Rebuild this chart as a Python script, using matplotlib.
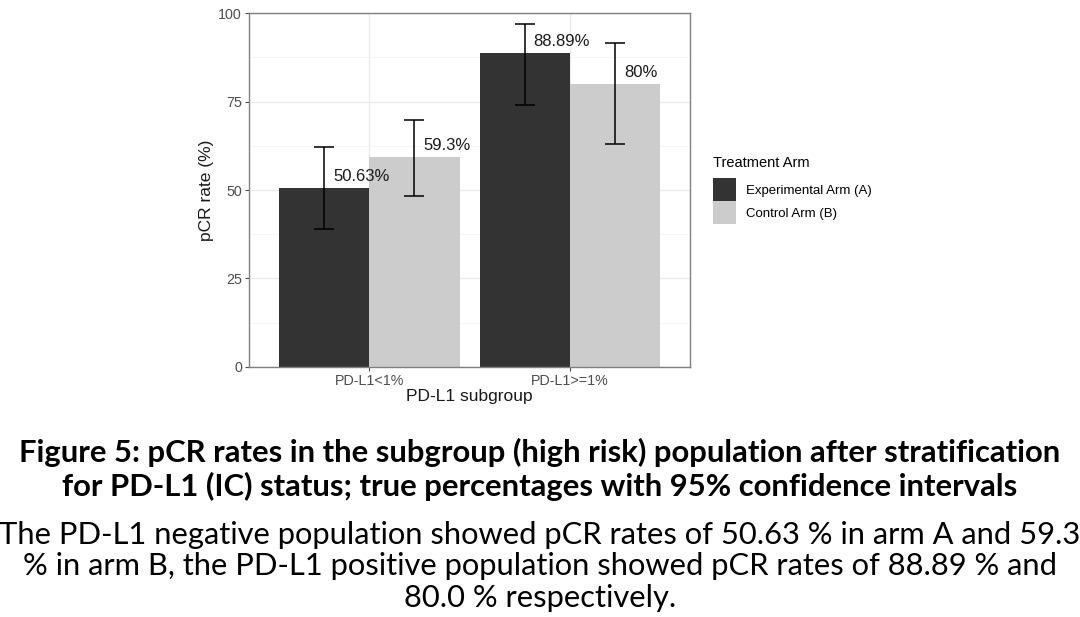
import matplotlib.pyplot as plt
import numpy as np
from matplotlib.patches import Patch
from matplotlib.ticker import MultipleLocator

# ==========================================================
# Data
# ==========================================================

subgroups = ["PD-L1<1%", "PD-L1>=1%"]
arms = ["Experimental Arm (A)", "Control Arm (B)"]

rate_a = [50.63, 88.89]
rate_b = [59.3, 80.0]
ci_low_a = [39.1, 74.0]
ci_high_a = [62.2, 96.9]
ci_low_b = [48.2, 63.1]
ci_high_b = [69.8, 91.6]
labels_a = ["50.63%", "88.89%"]
labels_b = ["59.3%", "80%"]

caption_title = [
    "Figure 5: pCR rates in the subgroup (high risk) population after stratification",
    "for PD-L1 (IC) status; true percentages with 95% confidence intervals",
]
caption_body = [
    "The PD-L1 negative population showed pCR rates of 50.63 % in arm A and 59.3",
    "% in arm B, the PD-L1 positive population showed pCR rates of 88.89 % and",
    "80.0 % respectively.",
]

# ==========================================================
# Style
# ==========================================================

DARK = "#333333"
LIGHT = "#CCCCCC"
GRID = "#EBEBEB"
TICK = "#4D4D4D"

plt.rcParams["font.family"] = ["Liberation Sans", "DejaVu Sans"]

fig = plt.figure(figsize=(10.8, 6.17), dpi=100)
ax = fig.add_axes([0.2306, 0.4057, 0.4083, 0.5727])

x = np.arange(1, len(subgroups) + 1)
w = 0.45

ax.bar(x - w / 2, rate_a, width=w, color=DARK, zorder=2)
ax.bar(x + w / 2, rate_b, width=w, color=LIGHT, zorder=2)

for xs, lo, hi in [(x - w / 2, ci_low_a, ci_high_a), (x + w / 2, ci_low_b, ci_high_b)]:
    ax.vlines(xs, lo, hi, color="black", lw=1.1, zorder=3)
    ax.hlines(lo, xs - 0.05, xs + 0.05, color="black", lw=1.1, zorder=3)
    ax.hlines(hi, xs - 0.05, xs + 0.05, color="black", lw=1.1, zorder=3)

for xs, vals, labs in [(x - w / 2, rate_a, labels_a), (x + w / 2, rate_b, labels_b)]:
    for xi, v, t in zip(xs, vals, labs):
        ax.text(xi + 0.045, v + 3.2, t, ha="left", va="center", fontsize=12,
                color="#1A1A1A", zorder=4)

ax.set_xlim(0.4, 2.6)
ax.set_ylim(0, 100)
ax.set_xticks(x)
ax.set_xticklabels(subgroups)
ax.yaxis.set_major_locator(MultipleLocator(25))
ax.yaxis.set_minor_locator(MultipleLocator(12.5))
ax.grid(True, which="major", color=GRID, lw=1.0, zorder=0)
ax.grid(True, which="minor", axis="y", color="#F5F5F5", lw=0.6, zorder=0)
ax.set_axisbelow(True)
ax.tick_params(axis="both", which="major", colors=TICK, labelsize=10.3,
               length=3, width=0.8, pad=2)
ax.tick_params(axis="both", which="minor", length=0)
for sp in ax.spines.values():
    sp.set_color("#808080")
    sp.set_linewidth(1.0)

ax.set_xlabel("PD-L1 subgroup", fontsize=12.5, color="#1A1A1A", labelpad=1)
ax.set_ylabel("pCR rate (%)", fontsize=12.5, color="#1A1A1A", labelpad=3)

# legend
handles = [Patch(facecolor=DARK, edgecolor="none"), Patch(facecolor=LIGHT, edgecolor="none")]
leg = fig.legend(handles, arms, loc="upper left", bbox_to_anchor=(0.652, 0.762),
                 frameon=False, fontsize=9.5, title="Treatment Arm", title_fontsize=10.5,
                 handlelength=1.75, handleheight=2.3, labelspacing=0.0,
                 handletextpad=0.75, borderpad=0.2)
leg._legend_box.align = "left"
leg._legend_box.sep = 6

# caption
cap_font = ["Lato", "DejaVu Sans"]
for txt, yy in zip(caption_title, [452, 486]):
    fig.text(0.5, 1 - yy / 617, txt, ha="center", va="center", fontsize=22.3,
             fontweight="bold", family=cap_font)
for txt, yy in zip(caption_body, [535, 566, 598]):
    fig.text(0.5, 1 - yy / 617, txt, ha="center", va="center", fontsize=22.2,
             family=cap_font)

fig.savefig("out.png", dpi=100)
